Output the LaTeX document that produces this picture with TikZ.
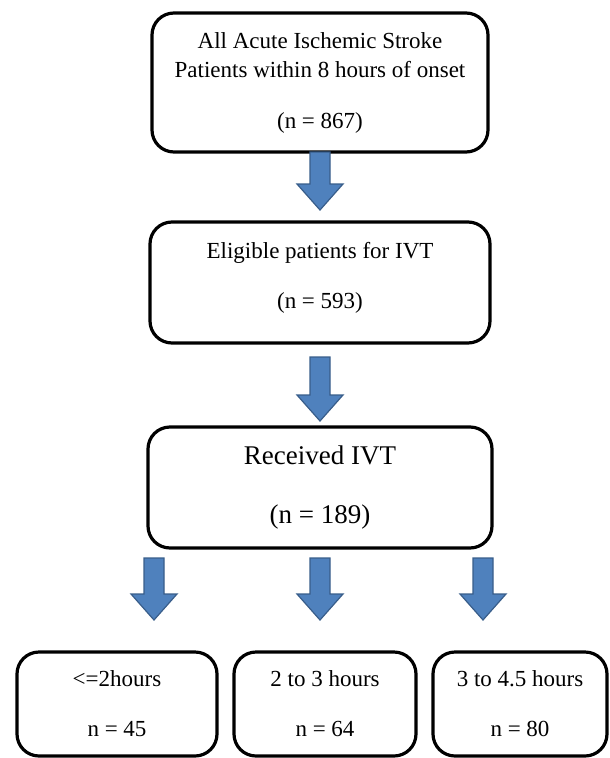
\documentclass[tikz,border=0pt]{standalone}
\usepackage{fontspec}
\setmainfont{Liberation Serif}
\usepackage{tikz}
\usetikzlibrary{positioning,calc}
\definecolor{arrowfill}{HTML}{4F81BD}
\definecolor{arrowline}{HTML}{385D8A}
\tikzset{
    stagebox/.style={draw, line width=3.2pt, rounded corners=22pt, align=center,
        outer sep=0pt, inner sep=0pt, font=\fontsize{23pt}{29pt}\selectfont},
    arrowstyle/.style={fill=arrowfill, draw=arrowline, line width=1.2pt, line join=miter}
}
% fat blue arrow pointing down, x taken from the start point
\newcommand{\blockarrow}[2]{%
    \filldraw[arrowstyle] let \p1=#1, \p2=#2 in
        (\x1-10pt,\y1) -- (\x1+10pt,\y1) -- (\x1+10pt,\y2+26pt) -- (\x1+23pt,\y2+26pt)
        -- (\x1,\y2) -- (\x1-23pt,\y2+26pt) -- (\x1-10pt,\y2+26pt) -- cycle;}

\begin{document}
\begin{tikzpicture}[x=1pt, y=1pt]
    \useasboundingbox (0,0) rectangle (610,-758);
    \node[stagebox, minimum width=336pt, minimum height=139pt] (allpts) at (320,-82.5)
        {All Acute Ischemic Stroke\\Patients within 8 hours of onset\\[22pt](n = 867)};
    \node[stagebox, minimum width=340pt, minimum height=121pt, below=70pt of allpts, text depth=15pt] (eligible)
        {Eligible patients for IVT\\[21pt](n = 593)};
    \node[stagebox, minimum width=344pt, minimum height=121pt, below=84pt of eligible,
        font=\fontsize{27pt}{33pt}\selectfont] (received)
        {Received IVT\\[26pt](n = 189)};
    \node[stagebox, minimum width=182pt, minimum height=104pt, below=104pt of received, xshift=5pt] (h2to3)
        {2 to 3 hours\\[21pt]n = 64};
    \node[stagebox, minimum width=200pt, minimum height=104pt, left=17pt of h2to3] (lt2h)
        {<=2hours\\[21pt]n = 45};
    \node[stagebox, minimum width=174pt, minimum height=104pt, right=17pt of h2to3] (h3to45)
        {3 to 4.5 hours\\[21pt]n = 80};

    \blockarrow{(allpts.south)}{([yshift=12pt]eligible.north)}
    \blockarrow{([yshift=-14pt]eligible.south)}{([yshift=6pt]received.north)}
    \blockarrow{([xshift=-166pt,yshift=-10pt]received.south)}{([yshift=32pt]lt2h.north)}
    \blockarrow{([yshift=-10pt]received.south)}{([yshift=32pt]h2to3.north)}
    \blockarrow{([xshift=163pt,yshift=-10pt]received.south)}{([yshift=32pt]h3to45.north)}
\end{tikzpicture}
\end{document}
